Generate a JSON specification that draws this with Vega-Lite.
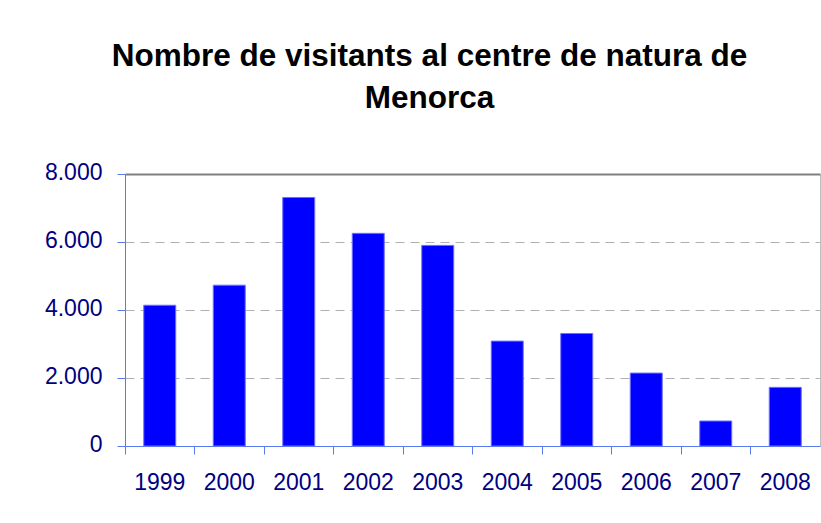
{
  "$schema": "https://vega.github.io/schema/vega-lite/v6.json",
  "autosize": {"type": "none"},
  "padding": {"left": 125, "top": 174, "right": 1, "bottom": 77},
  "width": 695,
  "height": 272,
  "background": "white",
  "title": {
    "text": ["Nombre de visitants al centre de natura de", "Menorca"],
    "font": "Liberation Sans",
    "fontSize": 31.5,
    "fontWeight": "bold",
    "color": "#000000",
    "lineHeight": 42,
    "anchor": "middle",
    "dx": -43,
    "offset": 47
  },
  "config": {
    "view": {"stroke": "#c0c0c0", "strokeWidth": 1}
  },
  "data": {
    "values": [
      {"Any": "1999", "Visitants": 4140},
      {"Any": "2000", "Visitants": 4730},
      {"Any": "2001", "Visitants": 7310},
      {"Any": "2002", "Visitants": 6255},
      {"Any": "2003", "Visitants": 5900},
      {"Any": "2004", "Visitants": 3085},
      {"Any": "2005", "Visitants": 3310},
      {"Any": "2006", "Visitants": 2145},
      {"Any": "2007", "Visitants": 735},
      {"Any": "2008", "Visitants": 1725}
    ]
  },
  "mark": {"type": "bar", "color": "#0000ff", "stroke": "#6f6fff", "strokeWidth": 1, "width": {"band": 0.46}},
  "encoding": {
    "x": {
      "field": "Any",
      "type": "ordinal",
      "scale": {"paddingInner": 0, "paddingOuter": 0},
      "axis": {
        "title": null,
        "labelAngle": 0,
        "bandPosition": 0,
        "labelFont": "Liberation Sans",
        "labelFontSize": 23,
        "labelColor": "#000080",
        "labelPadding": 17,
        "domainColor": "#5a7af0",
        "domainWidth": 1,
        "tickColor": "#5a7af0",
        "tickSize": 8,
        "tickWidth": 1,
        "grid": false
      }
    },
    "y": {
      "field": "Visitants",
      "type": "quantitative",
      "scale": {"domain": [0, 8000], "nice": false},
      "axis": {
        "title": null,
        "values": [0, 2000, 4000, 6000, 8000],
        "labelExpr": "replace(format(datum.value, ','), ',', '.')",
        "labelFont": "Liberation Sans",
        "labelFontSize": 23,
        "labelColor": "#000080",
        "labelPadding": 15,
        "labelOffset": -2,
        "domainColor": "#5a7af0",
        "domainWidth": 1,
        "tickColor": "#5a7af0",
        "tickSize": 8,
        "tickWidth": 1,
        "grid": true,
        "gridColor": {"condition": {"test": "datum.value === 8000", "value": "#808080"}, "value": "#b0b0b0"},
        "gridWidth": {"condition": {"test": "datum.value === 8000", "value": 2}, "value": 1},
        "gridDash": {"condition": {"test": "datum.value === 8000", "value": []}, "value": [9, 6]}
      }
    }
  }
}
